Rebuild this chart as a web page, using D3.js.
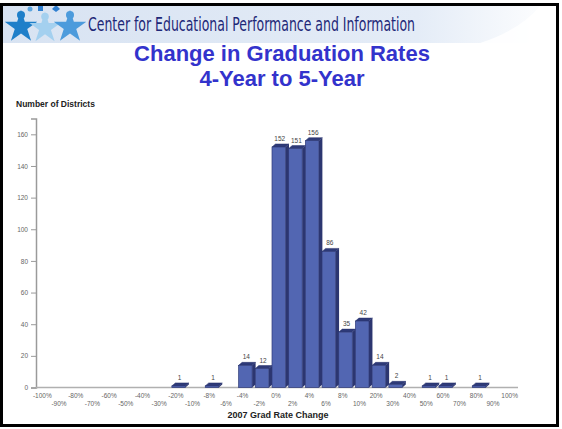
<!DOCTYPE html>
<html lang="en">
<head>
<meta charset="utf-8">
<title>Change in Graduation Rates</title>
<script src="https://d3js.org/d3.v7.min.js"></script>
<style>
  body { margin: 0; background: #fff; }
  svg { display: block; }
</style>
</head>
<body>
<script>
// categories on the x axis (tick labels)
const categories = ["-100%","-90%","-80%","-70%","-60%","-50%","-40%","-30%","-20%","-10%",
  "-8%","-6%","-4%","-2%","0%","2%","4%","6%","8%","10%","20%","30%","40%","50%","60%","70%","80%","90%","100%"];
// bars that have districts
const barCats = ["-20%","-8%","-4%","-2%","0%","2%","4%","6%","8%","10%","20%","30%","50%","60%","80%"];
const barVals = [1, 1, 14, 12, 152, 151, 156, 86, 35, 42, 14, 2, 1, 1, 1];
const yTicks = [0, 20, 40, 60, 80, 100, 120, 140, 160];

const w = 562, h = 429;
const svg = d3.select("body").append("svg").attr("width", w).attr("height", h);

// header band
const defs = svg.append("defs");
const grad = defs.append("linearGradient").attr("id", "band");
grad.append("stop").attr("offset", "0%").attr("stop-color", "#d8e3f2");
grad.append("stop").attr("offset", "75%").attr("stop-color", "#e4ecf7");
grad.append("stop").attr("offset", "100%").attr("stop-color", "#ffffff");
svg.append("rect").attr("x", 3).attr("y", 6).attr("width", 553).attr("height", 37).attr("fill", "url(#band)");
svg.append("path")
  .attr("d", "M440,6 L556,6 L556,43 L480,43 Q520,30 540,6 Z")
  .attr("fill", "#ffffff").attr("opacity", 0.85);

// logo: three kids
function kid(cx, cy, s, col) {
  const g = svg.append("g").attr("transform", `translate(${cx},${cy})`);
  g.append("path").attr("d", d3.symbol(d3.symbolStar, 330 * s * s)).attr("fill", col)
    .attr("transform", "translate(0,3)");
  g.append("circle").attr("cx", 0).attr("cy", -9 * s).attr("r", 4 * s).attr("fill", col);
}
kid(21, 24, 1.0, "#1f7fc9");
kid(45, 25, 0.95, "#a4d0ef");
kid(70, 24, 1.0, "#4c9bdc");
svg.append("rect").attr("x", 38).attr("y", 6).attr("width", 5).attr("height", 5).attr("fill", "#2f7fd0");
svg.append("path").attr("d", "M52,9 l4,-4 l4,4 l-4,3 Z").attr("fill", "#2f7fd0");
svg.append("circle").attr("cx", 30).attr("cy", 9).attr("r", 2.5).attr("fill", "#5da6e0");

svg.append("text")
  .attr("x", 88).attr("y", 31)
  .attr("font-family", "'Liberation Sans Narrow', 'DejaVu Sans Condensed', sans-serif")
  .attr("font-size", 19)
  .attr("fill", "#1e2878")
  .attr("textLength", 327).attr("lengthAdjust", "spacingAndGlyphs")
  .text("Center for Educational Performance and Information");

// title
const title = svg.append("g").attr("font-family", "Arial, 'Liberation Sans', sans-serif")
  .attr("font-weight", "bold").attr("fill", "#3333cc").attr("text-anchor", "middle");
title.append("text").attr("x", 282).attr("y", 61).attr("font-size", 22).text("Change in Graduation Rates");
title.append("text").attr("x", 282).attr("y", 86).attr("font-size", 22).text("4-Year to 5-Year");

// chart
const x = d3.scaleBand().domain(categories).range([34, 518]);
const y = d3.scaleLinear().domain([0, 170]).range([387.5, 118.5]);

const axisFont = "Arial, 'Liberation Sans', sans-serif";

// y axis
const yAxis = svg.append("g").attr("transform", "translate(36,0)")
  .call(d3.axisLeft(y).tickValues(yTicks).tickSize(5).tickPadding(3));
yAxis.select(".domain").attr("stroke", "#9a9a9a").attr("stroke-width", 1.5);
yAxis.selectAll(".tick line").attr("stroke", "#9a9a9a");
yAxis.selectAll(".tick text").attr("font-size", 6.5).attr("fill", "#666").attr("font-family", axisFont);

// x axis
const xAxis = svg.append("g").attr("transform", "translate(0,387.5)")
  .call(d3.axisBottom(x).tickSize(0).tickSizeOuter(0).tickPadding(0));
xAxis.select(".domain").attr("stroke", "#b0b0b0").attr("stroke-width", 1.5).attr("d", "M36,0H518");
xAxis.selectAll(".tick text")
  .attr("font-size", 6.5).attr("fill", "#666").attr("font-family", axisFont)
  .attr("dy", null)
  .attr("y", (d, i) => i % 2 === 0 ? 10 : 18);

svg.append("text").attr("x", 16).attr("y", 107)
  .attr("font-family", axisFont).attr("font-weight", "bold").attr("font-size", 8.5).attr("fill", "#222")
  .text("Number of Districts");
svg.append("text").attr("x", 278).attr("y", 418).attr("text-anchor", "middle")
  .attr("font-family", axisFont).attr("font-weight", "bold").attr("font-size", 9).attr("fill", "#222")
  .text("2007 Grad Rate Change");

// 3d bars
const bars = barCats.map((c, i) => ({ c, v: barVals[i] }));
const bw = 13.5, dx = 3.5, dy = 3;
const off = -4;
const bg = svg.append("g");
bars.forEach(d => {
  const x0 = x(d.c) + x.bandwidth() / 2 + off;
  const x1 = x0 + bw;
  const yt = y(d.v), yb = y(0);
  // right side
  bg.append("path")
    .attr("d", `M${x1},${yb} L${x1},${yt} L${x1 + dx},${yt - dy} L${x1 + dx},${yb - dy} Z`)
    .attr("fill", "#2c3670");
  // top
  bg.append("path")
    .attr("d", `M${x0},${yt} L${x0 + dx},${yt - dy} L${x1 + dx},${yt - dy} L${x1},${yt} Z`)
    .attr("fill", "#2e3a78").attr("stroke", "#26306a").attr("stroke-width", 0.5);
  // front
  bg.append("rect")
    .attr("x", x0).attr("y", yt).attr("width", bw).attr("height", Math.max(0, yb - yt))
    .attr("fill", "#5266b2").attr("stroke", "#2f3b78").attr("stroke-width", 0.7);
  bg.append("text")
    .attr("x", x0 + bw / 2 + 1).attr("y", yt - 6)
    .attr("text-anchor", "middle").attr("font-family", axisFont)
    .attr("font-size", 6.5).attr("fill", "#444")
    .text(d.v);
});

// slide frame
svg.append("rect").attr("x", 1.5).attr("y", 4.5).attr("width", 556).attr("height", 421)
  .attr("fill", "none").attr("stroke", "#000").attr("stroke-width", 3);
</script>
</body>
</html>
